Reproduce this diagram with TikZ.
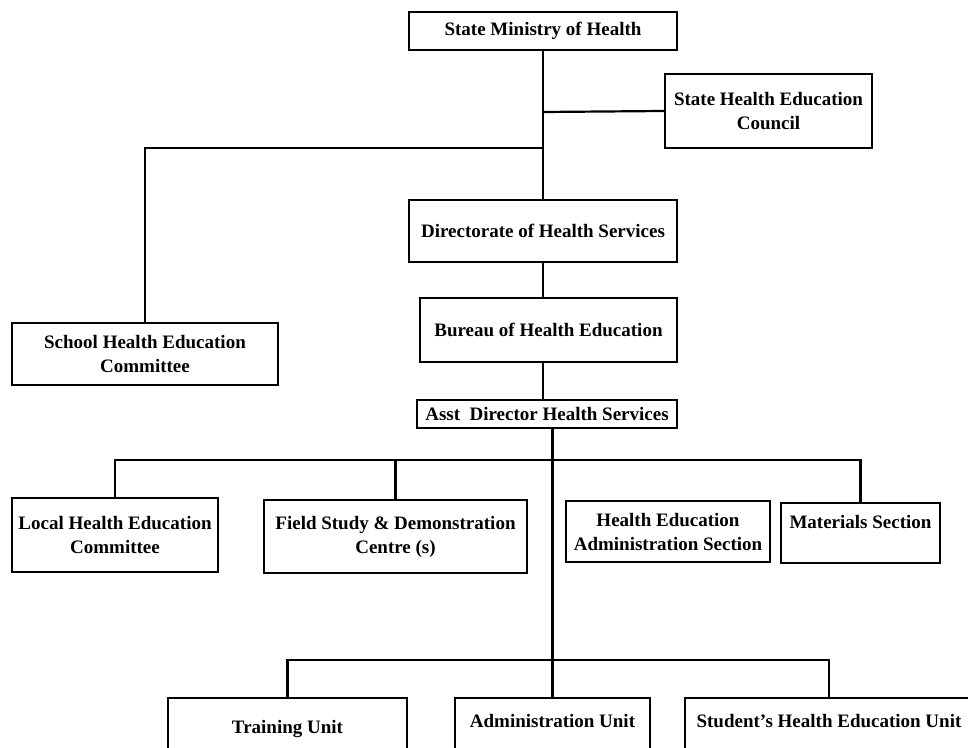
\documentclass[tikz,border=0pt]{standalone}
\usepackage{fontspec}
\setmainfont{Liberation Serif}
\tikzset{
    unit/.style={draw, line width=1.2pt, inner sep=0pt, align=center,
        font=\bfseries\fontsize{9.5}{12}\selectfont},
    link/.style={line width=1.1pt}
}

\begin{document}
\begin{tikzpicture}[x=0.5pt,y=-0.5pt]
    \useasboundingbox (0,0) rectangle (968,748);
    \clip (0,0) rectangle (968,748);

    \node[unit, minimum width=134pt, minimum height=19pt] (ministry) at (543,31) {State Ministry of Health};
    \node[unit, minimum width=103.5pt, minimum height=37pt] (council) at (768.5,111) {State Health Education\\Council};
    \node[unit, minimum width=134pt, minimum height=31pt] (directorate) at (543,231) {Directorate of Health Services};
    \node[unit, minimum width=133pt, minimum height=31pt] (school) at (145,354) {School Health Education\\Committee};
    \node[unit, minimum width=128.5pt, minimum height=32pt] (bureau) at (548.5,330) {Bureau of Health Education};
    \node[unit, minimum width=130pt, minimum height=14pt] (asst) at (547,414) {Asst~ Director Health Services};
    \node[unit, minimum width=103pt, minimum height=37pt] (local) at (115,535) {Local Health Education\\Committee};
    \node[unit, minimum width=131.5pt, minimum height=36.5pt] (field) at (395.5,536.5) {Field Study \& Demonstration\\Centre (s)};
    \node[unit, minimum width=102pt, minimum height=30.5pt] (heas) at (668,531.5) {Health Education\\Administration Section};
    \node[unit, minimum width=79.5pt, text height=12.5pt, text depth=17.5pt] (materials) at (860.5,533) {Materials Section};
    \node[unit, minimum width=119.5pt, text height=17.5pt, text depth=18.5pt] (training) at (287.5,734) {Training Unit};
    \node[unit, minimum width=97.5pt, text height=14.5pt, text depth=21.5pt] (admin) at (552.5,734) {Administration Unit};
    \node[unit, minimum width=144pt, text height=14.5pt, text depth=21.5pt] (student) at (829,734) {Student's Health Education Unit};

    \coordinate (council-tap) at (543,112);
    \coordinate (school-tap) at (543,148);
    \coordinate (upper) at (553,460);
    \coordinate (lower) at (553,660);

    \draw[link] (ministry.south) -- (directorate.north -| ministry.south);
    \draw[link] (council-tap) -- (council.west);
    \draw[link] (school-tap) -| (school.north);
    \draw[link] (directorate.south -| ministry.south) -- (bureau.north -| ministry.south);
    \draw[link] (bureau.south -| ministry.south) -- (asst.north -| ministry.south);
    \draw[link] (asst.south -| admin.north) -- (admin.north);
    \draw[link] (local.north) |- (upper) -| (materials.north);
    \draw[link] (field.north) -- (field.north |- upper);
    \draw[link] (training.north) |- (lower) -| (student.north);
\end{tikzpicture}
\end{document}
